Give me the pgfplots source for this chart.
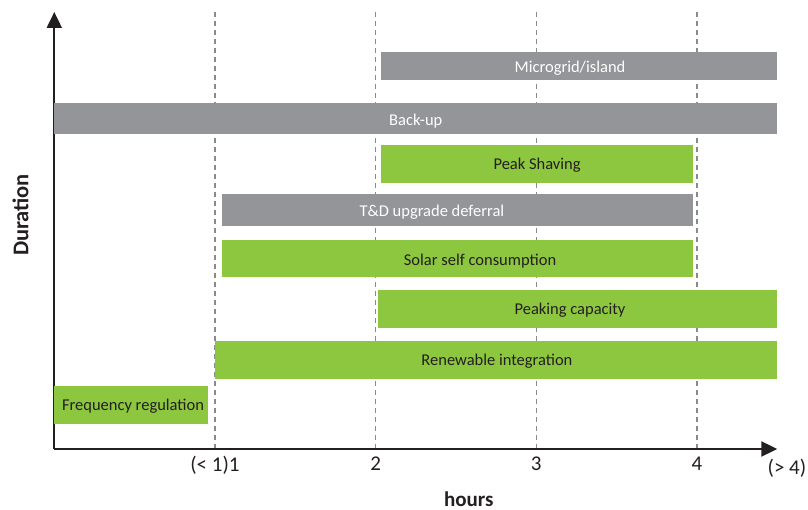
\documentclass[border=0pt]{standalone}
\usepackage{pgfplots}
\pgfplotsset{compat=1.18}
\usepackage{fontspec}
\setmainfont{Carlito}
\usetikzlibrary{arrows.meta}
\definecolor{bargray}{HTML}{939598}
\definecolor{bargreen}{HTML}{8DC63F}
\definecolor{ink}{HTML}{231F20}
\definecolor{gridgray}{HTML}{8A8A8C}
\begin{document}
\begin{tikzpicture}
\useasboundingbox (-54.3pt,-61pt) rectangle (753.7pt,449pt);
\begin{axis}[
  scale only axis,
  width=723pt, height=437pt,
  xmin=0, xmax=4.5, ymin=0, ymax=437,
  axis lines=left,
  axis line style={ink, line width=2pt, -{Triangle[width=15pt,length=16pt]}},
  xtick={1,2,3,4},
  xticklabels={(< 1)1, 2, 3, 4},
  ytick=\empty,
  major tick length=0pt,
  xmajorgrids,
  grid style={gridgray, line width=1.2pt, dash pattern=on 4.5pt off 4.5pt},
  ticklabel style={font=\fontsize{21}{24}\selectfont, text=ink},
  xticklabel style={yshift=-4pt},
  /pgf/number format/assume math mode=true,
  clip=false,
]
% bars: (x start, y bottom) ... rectangle in hours / vertical layout units
\addplot[fill=bargray, draw=none] coordinates {(2.034,369) (4.5,369) (4.5,397) (2.034,397)} -- cycle;
\addplot[fill=bargray, draw=none] coordinates {(0,315) (4.5,315) (4.5,346) (0,346)} -- cycle;
\addplot[fill=bargreen, draw=none] coordinates {(2.034,266) (3.975,266) (3.975,304) (2.034,304)} -- cycle;
\addplot[fill=bargray, draw=none] coordinates {(1.044,223) (3.975,223) (3.975,255) (1.044,255)} -- cycle;
\addplot[fill=bargreen, draw=none] coordinates {(1.044,172) (3.975,172) (3.975,209) (1.044,209)} -- cycle;
\addplot[fill=bargreen, draw=none] coordinates {(2.015,121) (4.5,121) (4.5,159) (2.015,159)} -- cycle;
\addplot[fill=bargreen, draw=none] coordinates {(1.0,70) (4.5,70) (4.5,108) (1.0,108)} -- cycle;
\addplot[fill=bargreen, draw=none] coordinates {(0,25) (0.957,25) (0.957,63) (0,63)} -- cycle;

\begin{scope}[every node/.style={font=\fontsize{16.5}{19}\selectfont}]
\node[white] at (axis cs:3.21,381) {Microgrid/island};
\node[white] at (axis cs:2.25,328) {Back-up};
\node[ink] at (axis cs:3.005,284) {Peak Shaving};
\node[white] at (axis cs:2.35,237) {T\&D upgrade deferral};
\node[ink] at (axis cs:2.65,188) {Solar self consumption};
\node[ink] at (axis cs:3.21,139) {Peaking capacity};
\node[ink] at (axis cs:2.755,88) {Renewable integration};
\node[ink] at (axis cs:0.49,43) {Frequency regulation};
\end{scope}
\node[ink, font=\fontsize{21}{24}\selectfont] at (axis cs:4.56,-19.5) {(> 4)};
\node[ink, inner sep=0pt, font=\bfseries\fontsize{21}{24}\selectfont] at (axis cs:2.58,-50) {hours};
\node[ink, inner sep=0pt, font=\bfseries\fontsize{22.5}{26}\selectfont, rotate=90] at (axis cs:-0.21,234) {Duration};
\end{axis}
\end{tikzpicture}
\end{document}
